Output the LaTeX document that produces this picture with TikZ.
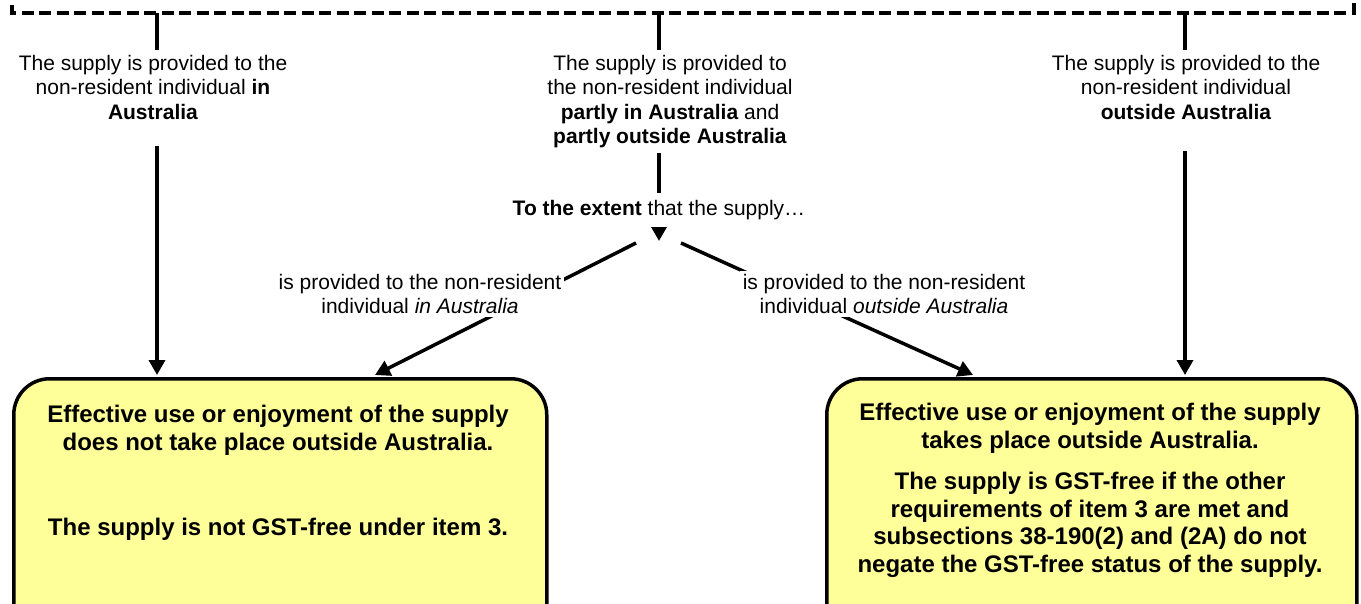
\documentclass[tikz,border=0pt]{standalone}
\usepackage{fontspec}
\setmainfont{Liberation Sans}
\usetikzlibrary{arrows.meta,calc}
\definecolor{boxyellow}{HTML}{FFFF99}
\begin{document}
\begin{tikzpicture}[x=1pt,y=-1pt,
  txt/.style={font=\fontsize{21}{24.5}\selectfont, align=center, inner sep=0pt, anchor=north},
  lbl/.style={txt, fill=white, inner sep=3pt},
  boxtxt/.style={font=\bfseries\fontsize{24}{27.6}\selectfont, align=center, inner sep=0pt, anchor=north},
  conn/.style={line width=3.5pt},
  arr/.style={conn, -{Triangle[length=15pt,width=16pt]}},
  panel/.style={draw, line width=3.5pt, fill=boxyellow, rounded corners=36pt, anchor=north west},
]
\useasboundingbox (0,0) rectangle (1361,604);
\begin{scope}
\clip (0,0) rectangle (1361,604);
% dashed container (only its lower part is visible)
\draw[line width=3.5pt, dash pattern=on 12pt off 5.5pt] (12,-30) -- (12,13) -- (1354,13) -- (1354,-30);
\coordinate (t1) at (157,13);
\coordinate (t2) at (659,13);
\coordinate (t3) at (1185,13);
\coordinate (split) at (659,241);
\coordinate (sL) at (636,243);
\coordinate (sR) at (681,243);

% outcome boxes
\node[panel, minimum width=533pt, minimum height=300pt] (L) at (12,377) {};
\node[panel, minimum width=530pt, minimum height=300pt] (R) at (825,377) {};
\coordinate (aL) at (375,375);
\coordinate (aR) at (973,375);

% top texts
\node[txt] (lt) at (153,55) {The supply is provided to the\\non-resident individual \textbf{in}\\\textbf{Australia}};
\node[txt] (mt) at (670,55) {The supply is provided to\\the non-resident individual\\\textbf{partly in Australia} and\\\textbf{partly outside Australia}};
\node[txt] (rt) at (1186,55) {The supply is provided to the\\non-resident individual\\\textbf{outside Australia}};

% connectors from container
\draw[conn, shorten >=5pt] (t1) -- (t1 |- lt.north);
\draw[conn, shorten >=5pt] (t2) -- (t2 |- mt.north);
\draw[conn, shorten >=5pt] (t3) -- (t3 |- rt.north);

% straight arrows
\draw[arr, shorten <=26pt, shorten >=2pt] (lt.south -| t1) -- (t1 |- L.north);
\draw[arr, shorten <=31pt, shorten >=2pt] (rt.south -| t3) -- (t3 |- R.north);
\draw[conn, -{Triangle[length=15pt,width=16pt]}, shorten <=5pt] (mt.south -| split) -- (split);
\node[txt, fill=white, inner xsep=2pt, inner ysep=7pt] (ext) at (659,193) {\textbf{To the extent} that the supply…};

% diagonal arrows
\draw[arr] (sL) -- (aL);
\draw[arr] (sR) -- (aR);
\node[lbl] (ll) at (420,271) {is provided to the non-resident\\individual \textit{in Australia}};
\node[lbl] (rl) at (884,271) {is provided to the non-resident\\individual \textit{outside Australia}};

% box texts
\node[boxtxt] (lbt) at (278,405) {Effective use or enjoyment of the supply\\does not take place outside Australia.\\[58pt]The supply is not GST-free under item 3.};
\node[boxtxt] (rbt) at (1090,403) {Effective use or enjoyment of the supply\\takes place outside Australia.\\[14pt]The supply is GST-free if the other\\requirements of item 3 are met and\\subsections 38-190(2) and (2A) do not\\negate the GST-free status of the supply.};
\end{scope}
\end{tikzpicture}
\end{document}
